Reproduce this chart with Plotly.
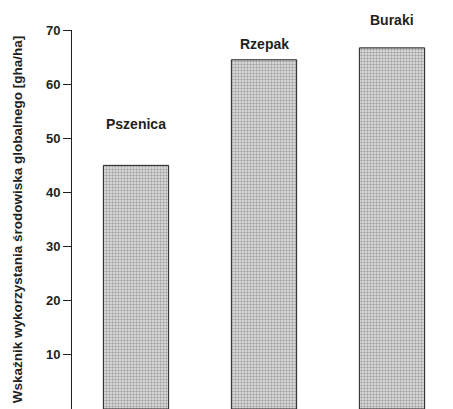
import plotly.graph_objects as go

categories = ["Pszenica", "Rzepak", "Buraki"]
values = [45.0, 64.5, 66.7]
label_shift = [41, 16, 28]  # px above bar top (style)
y_ticks = [0, 10, 20, 30, 40, 50, 60, 70]
y_title = "Wskaźnik wykorzystania środowiska globalnego [gha/ha]"

FONT = "Liberation Sans, Arial, sans-serif"
INK = "#231f20"

# The page body has an 8px default margin; compensate in the layout.
fig = go.Figure()
fig.add_trace(go.Bar(
    x=list(range(len(categories))),
    y=values,
    width=0.51,
    marker=dict(
        color="#ffffff",
        line=dict(color=INK, width=1),
        pattern=dict(shape=".", fgcolor="#606060", bgcolor="#e6e6e6",
                     size=3, solidity=0.5, fillmode="overlay"),
    ),
    hoverinfo="skip",
))

for i, (c, v, s) in enumerate(zip(categories, values, label_shift)):
    fig.add_annotation(x=i, y=v, text="<b>%s</b>" % c, showarrow=False,
                       yshift=s, font=dict(family=FONT, size=14, color=INK),
                       yanchor="middle")

fig.update_layout(
    width=445, height=401,
    margin=dict(l=64, r=0, t=22, b=0),
    plot_bgcolor="white", paper_bgcolor="white",
    showlegend=False,
    xaxis=dict(range=[-0.5, -0.5 + 381 / 128], visible=False, fixedrange=True),
    yaxis=dict(
        range=[0, 70], tickvals=y_ticks,
        ticktext=["<b>%d</b>" % t for t in y_ticks],
        showgrid=False, zeroline=False,
        showline=True, linecolor=INK, linewidth=1,
        ticks="outside", ticklen=8, tickcolor=INK, tickwidth=1,
        tickfont=dict(family=FONT, size=13, color=INK),
        automargin=False,
        title=dict(text="<b>%s</b>" % y_title,
                   font=dict(family=FONT, size=13.5, color=INK), standoff=20),
    ),
)

fig.write_html("out.html")
